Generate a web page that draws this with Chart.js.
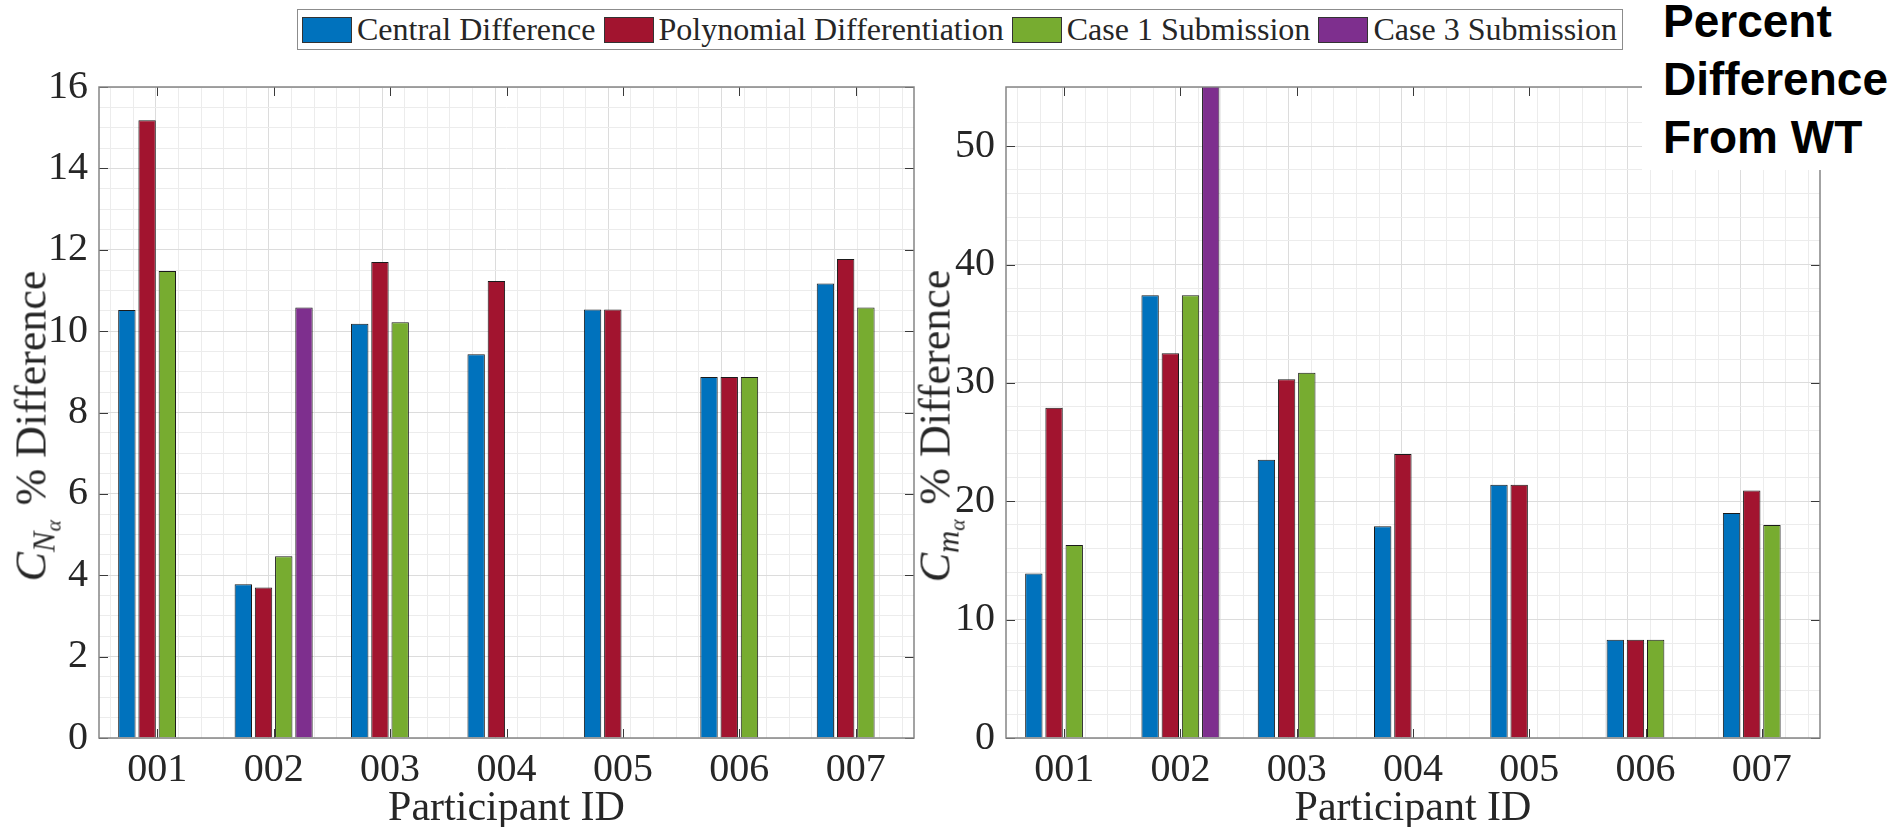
<!DOCTYPE html>
<html lang="en">
<head>
<meta charset="UTF-8"/>
<title>Percent Difference From WT</title>
<script src="https://cdn.jsdelivr.net/npm/chart.js@4.4.2/dist/chart.umd.min.js"></script>
<style>
body{margin:0;background:#fff;width:1903px;height:827px;overflow:hidden;position:relative;color:#262626}
canvas{position:absolute;top:0}
#c1{left:0}
#c2{left:950px}
#legend{position:absolute;left:297px;top:9px;width:1326px;height:41px;box-sizing:border-box;border:1px solid #8c8c8c;background:#fff;
  display:flex;justify-content:space-between;align-items:center;padding:0 5px 0 4px;font:32px "Liberation Serif",serif;color:#262626}
#legend .item{display:flex;align-items:center;white-space:nowrap}
#legend .sw{width:50px;height:26px;box-sizing:border-box;border:1px solid #333;margin-right:5px}
.ylab{position:absolute;top:426px;transform:translate(-50%,-50%) rotate(-90deg);font:44px "Liberation Serif",serif;white-space:nowrap;color:#262626}
.ylab sub{font-size:.7em;vertical-align:-.28em;line-height:0}
.ylab>sub{margin-right:.12em}
#note{position:absolute;left:1642px;top:0;width:261px;height:170px;background:#fff;font:bold 46px "Liberation Sans",Arial,sans-serif;line-height:58px;color:#000}
#note div{position:relative;top:-8px;left:21px}
</style>
</head>
<body>
<canvas id="c1" width="950" height="827"></canvas>
<canvas id="c2" width="953" height="827"></canvas>
<div id="legend"></div>
<div class="ylab" style="left:31px"><i>C</i><sub><i>N</i><sub><i>α</i></sub></sub> % Difference</div>
<div class="ylab" style="left:935px"><i>C</i><sub><i>m</i><sub><i>α</i></sub></sub> % Difference</div>
<div id="note"><div>Percent<br>Difference<br>From WT</div></div>
<script>
const participants=['001','002','003','004','005','006','007'];
const seriesNames=['Central Difference','Polynomial Differentiation','Case 1 Submission','Case 3 Submission'];
const seriesColors=['#0072BD','#A2142F','#77AC30','#7E2F8E'];

// C_N alpha, % difference
const cnCentral=[10.52,3.78,10.18,9.43,10.53,8.87,11.17];
const cnPoly=[15.18,3.70,11.70,11.23,10.53,8.87,11.77];
const cnCase1=[11.48,4.47,10.22,null,null,8.87,10.58];
const cnCase3=[null,10.58,null,null,null,null,null];

// C_m alpha, % difference (002 case 3 runs off the top of the axis)
const cmCentral=[13.9,37.4,23.5,17.9,21.4,8.3,19.0];
const cmPoly=[27.9,32.5,30.3,24.0,21.4,8.3,20.9];
const cmCase1=[16.3,37.4,30.85,null,null,8.3,18.0];
const cmCase3=[null,60,null,null,null,null,null];

const legend=document.getElementById('legend');
seriesNames.forEach((n,i)=>{
  legend.insertAdjacentHTML('beforeend',`<div class="item"><span class="sw" style="background:${seriesColors[i]}"></span>${n}</div>`);
});

const serif='"Liberation Serif", serif';
const majorGrid='#dcdcdc', minorGrid='#ececec';

const frame={
  id:'frame',
  afterDatasetsDraw(chart,args,opts){
    const {ctx,chartArea:a,scales}=chart;
    ctx.save();
    ctx.strokeStyle='#3a3a3a';ctx.lineWidth=1;
    ctx.beginPath();
    scales.x.ticks.forEach((t,i)=>{
      const px=Math.round(scales.x.getPixelForTick(i))+.5;
      ctx.moveTo(px,a.bottom);ctx.lineTo(px,a.bottom-9);
      ctx.moveTo(px,a.top);ctx.lineTo(px,a.top+9);
    });
    scales.y.ticks.forEach(t=>{
      if(t.value%opts.major) return;
      const py=Math.round(scales.y.getPixelForValue(t.value))+.5;
      ctx.moveTo(a.left,py);ctx.lineTo(a.left+9,py);
      ctx.moveTo(a.right,py);ctx.lineTo(a.right-9,py);
    });
    ctx.stroke();
    ctx.strokeStyle='#858585';ctx.lineWidth=1.5;
    ctx.strokeRect(a.left,a.top,a.width,a.height);
    ctx.restore();
  }
};

const isWhole=v=>Math.abs(v-Math.round(v))<1e-6;

function makeChart(id,series,yMax,yStep,major,axisW,rightPad){
  return new Chart(document.getElementById(id),{
    type:'bar',
    data:{
      labels:participants,
      datasets:series.map((d,i)=>({
        label:seriesNames[i],data:d,backgroundColor:seriesColors[i],
        borderColor:'#1a1a1a',borderWidth:1,clip:0,
        categoryPercentage:0.695,barPercentage:0.86
      }))
    },
    options:{
      responsive:false,animation:false,
      layout:{padding:{top:87,right:rightPad,left:0,bottom:0}},
      plugins:{legend:{display:false},tooltip:{enabled:false},frame:{major}},
      scales:{
        x:{
          type:'category',offset:true,
          grid:{display:false},border:{display:false},
          ticks:{font:{family:serif,size:40},color:'#262626',padding:0,autoSkip:false,maxRotation:0},
          title:{display:true,text:'Participant ID',font:{family:serif,size:42},color:'#262626',padding:{top:0,bottom:-7}},
          afterFit:s=>{s.height=89;}
        },
        xg:{
          type:'linear',position:'bottom',min:-0.5,max:participants.length-0.5,
          afterBuildTicks:s=>{
            const t=[];
            for(let k=-2;k<=participants.length*5-3;k++) t.push({value:k/5});
            s.ticks=t;
          },
          ticks:{display:false},border:{display:false},
          grid:{drawTicks:false,color:c=>(c.tick&&isWhole(c.tick.value))?majorGrid:minorGrid},
          afterFit:s=>{s.height=0;}
        },
        y:{
          min:0,max:yMax,
          border:{display:false},
          grid:{drawTicks:false,color:c=>(c.tick&&c.tick.value%major===0)?majorGrid:minorGrid},
          ticks:{stepSize:yStep,padding:11,autoSkip:false,font:{family:serif,size:40},color:'#262626',
            callback:v=>v%major===0?v:''},
          afterFit:s=>{s.width=axisW;}
        }
      }
    },
    plugins:[frame]
  });
}

makeChart('c1',[cnCentral,cnPoly,cnCase1,cnCase3],16,0.5,2,99,36);
makeChart('c2',[cmCentral,cmPoly,cmCase1,cmCase3],55,2,10,56,83);
</script>
</body>
</html>
